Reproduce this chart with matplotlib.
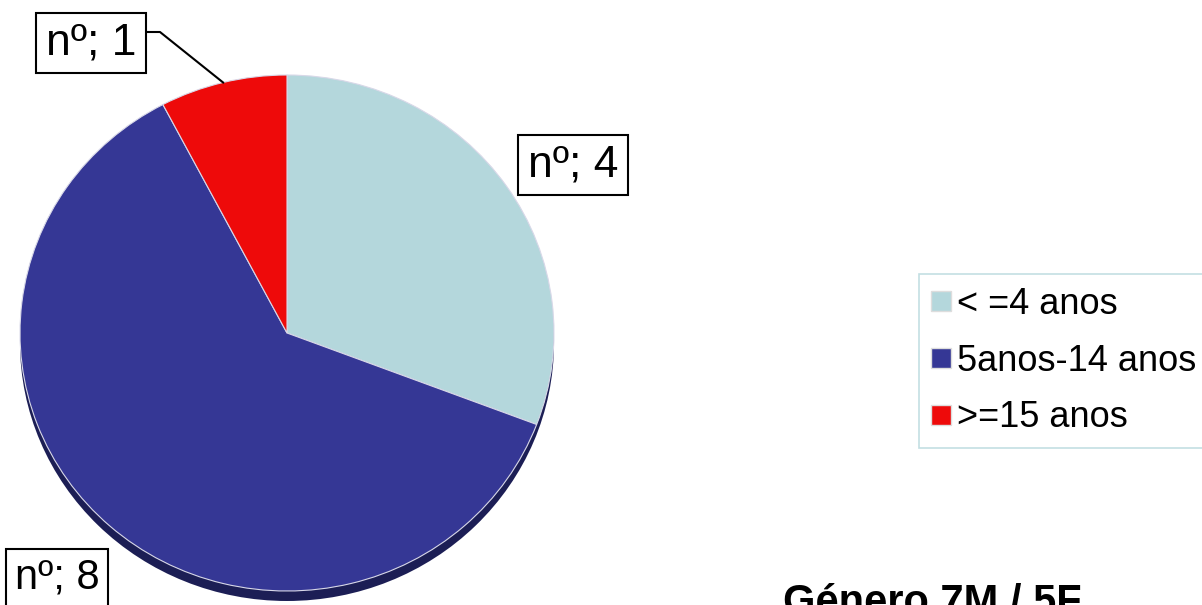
import numpy as np
import matplotlib.pyplot as plt
from matplotlib.patches import Ellipse

plt.rcParams['font.family'] = ['Liberation Sans', 'DejaVu Sans']

# data
categories = ['< =4 anos', '5anos-14 anos', '>=15 anos']
counts = [4, 8, 1]
colors = ['#B4D7DC', '#353795', '#EE0A0A']
title = 'Género 7M / 5F'

W, H = 1202, 605
fig = plt.figure(figsize=(W / 100, H / 100), dpi=100)


def px(x, y):
    # pixel (from top-left) -> figure fraction
    return x / W, 1 - y / H


# pie axes, slightly squashed ellipse (3d look)
left, right, top, bottom = 20, 554, 75, 591
ax = fig.add_axes([left / W, 1 - bottom / H, (right - left) / W, (bottom - top) / H])
wedges, _ = ax.pie(counts, colors=colors, startangle=90, counterclock=False,
                   radius=1, wedgeprops=dict(edgecolor='#d8d8e8', linewidth=0.8))
ax.set_aspect('auto')
ax.set_xlim(-1, 1)
ax.set_ylim(-1, 1)
ax.axis('off')

# dark "depth" under the pie
ry_px = (bottom - top) / 2
shadow = Ellipse((0, -10 / ry_px), 2, 2, facecolor='#1c1e55', edgecolor='none',
                 zorder=0, clip_on=False)
ax.add_patch(shadow)

# data labels
box = dict(boxstyle='square,pad=0.22', facecolor='white', edgecolor='black', linewidth=1.5)
label_pos = [(573, 165), (57, 578), (91, 43)]
label_size = [32, 30, 32]
for v, (x, y), fs in zip(counts, label_pos, label_size):
    fig.text(*px(x, y), f'nº; {v}', fontsize=fs, ha='center', va='center', bbox=box)

# leader line for the small slice
w = wedges[2]
mid = np.deg2rad((w.theta1 + w.theta2) / 2)
ex, ey = np.cos(mid), np.sin(mid)
exf = ax.transAxes.transform(((ex + 1) / 2, (ey + 1) / 2))
exf = fig.transFigure.inverted().transform(exf)
fig.add_artist(plt.Line2D([px(147, 0)[0], px(160, 0)[0], exf[0]],
                          [px(0, 32)[1], px(0, 32)[1], exf[1]],
                          color='black', linewidth=1.5))

# legend
handles = [plt.Line2D([], [], marker='s', linestyle='none', markersize=14,
                      markerfacecolor=c, markeredgecolor='#dddddd') for c in colors]
leg = fig.legend(handles, categories, loc='upper left', bbox_to_anchor=px(919, 274),
                 fontsize=26, frameon=True, fancybox=False, handlelength=0.5,
                 handletextpad=0.2, labelspacing=0.6, borderpad=0.36,
                 borderaxespad=0)
leg.get_frame().set_edgecolor('#B4D7DC')
leg.get_frame().set_linewidth(1.2)

fig.text(*px(783, 614), title, fontsize=30, fontweight='bold', ha='left', va='baseline')

fig.savefig('out.png', dpi=100)
